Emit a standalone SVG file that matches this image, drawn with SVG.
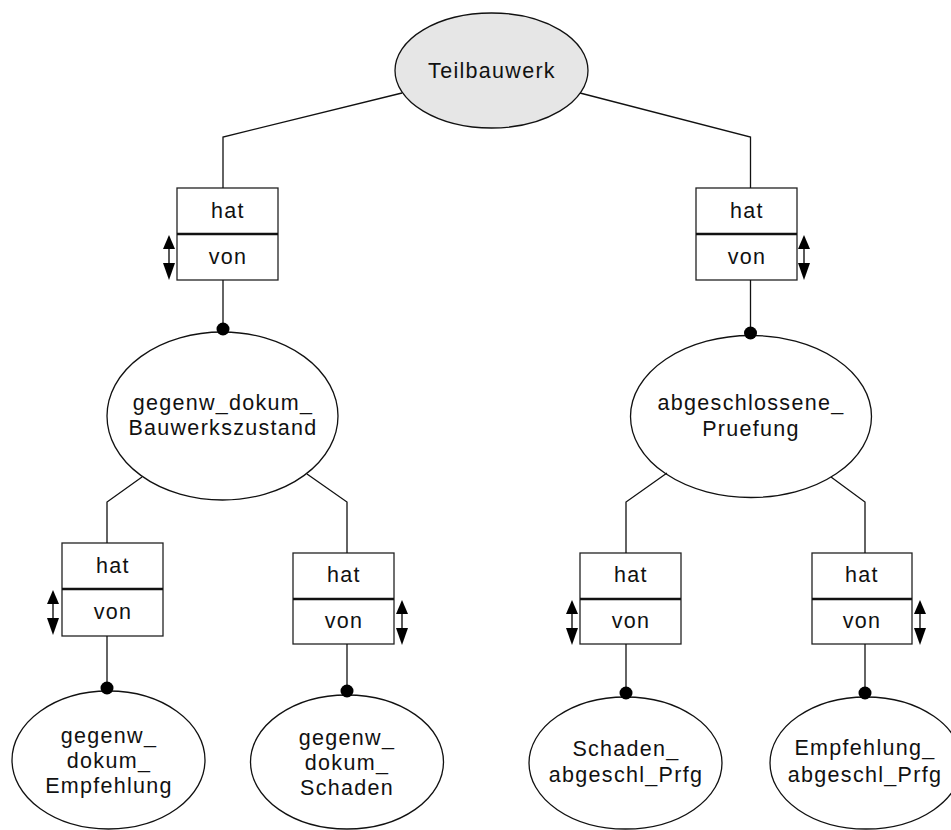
<svg xmlns="http://www.w3.org/2000/svg" width="951" height="830" viewBox="0 0 951 830">
<style>
.bg{fill:#ffffff}
.ent{fill:#ffffff;stroke:#111;stroke-width:1.3}
.root{fill:#e6e6e6;stroke:#111;stroke-width:1.3}
.box{fill:#ffffff;stroke:#222;stroke-width:1.3}
.div{stroke:#111;stroke-width:2.6}
.con{fill:none;stroke:#111;stroke-width:1.3}
.dot{fill:#000}
.arr{fill:#000}
.shaft{stroke:#000;stroke-width:1.3}
text{font-family:"Liberation Sans",Arial,sans-serif;font-size:21.5px;fill:#111;text-anchor:middle;letter-spacing:1.3px}
</style>
<defs>
<g id="arrows">
<polygon class="arr" points="0,0 -6,14 6,14"/>
<line class="shaft" x1="0" y1="14" x2="0" y2="28"/>
<polygon class="arr" points="-6,28 6,28 0,45"/>
</g>
</defs>
<rect class="bg" x="0" y="0" width="951" height="830"/>
<g id="teilbauwerk">
<ellipse class="root" cx="491.5" cy="70.5" rx="96.5" ry="57.5"/>
<text x="492" y="77.5">Teilbauwerk</text>
</g>
<g id="rel1">
<rect class="box" x="177" y="188" width="101" height="92"/>
<line class="div" x1="177" y1="234" x2="278" y2="234"/>
<text x="228" y="218">hat</text>
<text x="228" y="263.5">von</text>
<use href="#arrows" x="169" y="235"/>
</g>
<g id="rel2">
<rect class="box" x="696" y="188" width="101" height="92"/>
<line class="div" x1="696" y1="234" x2="797" y2="234"/>
<text x="747" y="218">hat</text>
<text x="747" y="263.5">von</text>
<use href="#arrows" x="804" y="235"/>
</g>
<g id="gegenw_dokum_bauwerkszustand">
<ellipse class="ent" cx="222.5" cy="416" rx="115.5" ry="84"/>
<text x="223" y="410">gegenw_dokum_</text>
<text x="223" y="435">Bauwerkszustand</text>
</g>
<g id="abgeschlossene_pruefung">
<ellipse class="ent" cx="751" cy="416.5" rx="120.5" ry="81"/>
<text x="751" y="410">abgeschlossene_</text>
<text x="751" y="435.5">Pruefung</text>
</g>
<g id="rel3">
<rect class="box" x="62" y="543" width="101" height="93"/>
<line class="div" x1="62" y1="589" x2="163" y2="589"/>
<text x="113" y="573">hat</text>
<text x="113" y="619">von</text>
<use href="#arrows" x="53" y="590"/>
</g>
<g id="rel4">
<rect class="box" x="293" y="553" width="101" height="91"/>
<line class="div" x1="293" y1="599" x2="394" y2="599"/>
<text x="344" y="582">hat</text>
<text x="344" y="628">von</text>
<use href="#arrows" x="402" y="600"/>
</g>
<g id="rel5">
<rect class="box" x="580" y="553" width="101" height="91"/>
<line class="div" x1="580" y1="599" x2="681" y2="599"/>
<text x="631" y="582">hat</text>
<text x="631" y="628">von</text>
<use href="#arrows" x="572" y="600"/>
</g>
<g id="rel6">
<rect class="box" x="812" y="553" width="100" height="91"/>
<line class="div" x1="812" y1="599" x2="912" y2="599"/>
<text x="862" y="582">hat</text>
<text x="862" y="628">von</text>
<use href="#arrows" x="920" y="600"/>
</g>
<g id="gegenw_dokum_empfehlung">
<ellipse class="ent" cx="108.5" cy="760" rx="96.5" ry="69"/>
<text x="109" y="743">gegenw_</text>
<text x="109" y="768">dokum_</text>
<text x="109" y="793">Empfehlung</text>
</g>
<g id="gegenw_dokum_schaden">
<ellipse class="ent" cx="347" cy="762" rx="96.5" ry="67"/>
<text x="347" y="745">gegenw_</text>
<text x="347" y="770">dokum_</text>
<text x="347" y="795">Schaden</text>
</g>
<g id="schaden_abgeschl_prfg">
<ellipse class="ent" cx="625.5" cy="763" rx="96.5" ry="66"/>
<text x="626" y="756">Schaden_</text>
<text x="626" y="781.5">abgeschl_Prfg</text>
</g>
<g id="empfehlung_abgeschl_prfg">
<ellipse class="ent" cx="866" cy="763" rx="96" ry="66"/>
<text x="865" y="755">Empfehlung_</text>
<text x="865" y="781.5">abgeschl_Prfg</text>
</g>
<g id="connectors">
<polyline class="con" points="402,93 223,137 223,188"/>
<polyline class="con" points="580,93 750.5,137 750.5,188"/>
<line class="con" x1="223" y1="280" x2="223" y2="329"/>
<line class="con" x1="750.5" y1="280" x2="750.5" y2="333"/>
<polyline class="con" points="142,477 107,502 107,543"/>
<polyline class="con" points="307,474 347,502 347,553"/>
<polyline class="con" points="667,473 626,502 626,553"/>
<polyline class="con" points="831,477 865,502 865,553"/>
<line class="con" x1="107" y1="636" x2="107" y2="688"/>
<line class="con" x1="347" y1="644" x2="347" y2="691"/>
<line class="con" x1="626" y1="644" x2="626" y2="693"/>
<line class="con" x1="865" y1="644" x2="865" y2="693"/>
<circle class="dot" cx="223" cy="329" r="6.5"/>
<circle class="dot" cx="750.5" cy="333" r="6.5"/>
<circle class="dot" cx="107" cy="688" r="6.5"/>
<circle class="dot" cx="347" cy="691" r="6.5"/>
<circle class="dot" cx="626" cy="693" r="6.5"/>
<circle class="dot" cx="865" cy="693" r="6.5"/>
</g>
</svg>
